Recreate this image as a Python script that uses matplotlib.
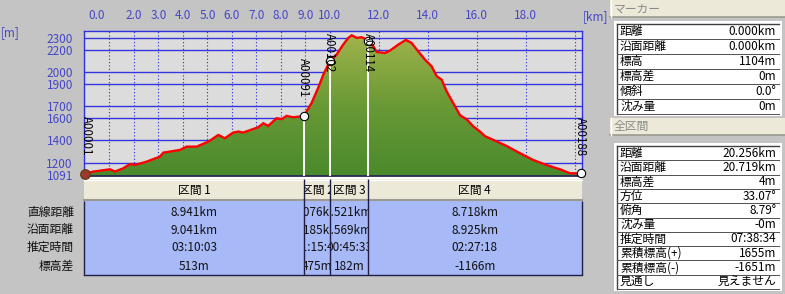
import numpy as np
import matplotlib
matplotlib.use('Agg')
import matplotlib.pyplot as plt
from matplotlib.patches import Rectangle, Polygon
from matplotlib import transforms
from matplotlib.transforms import Bbox, TransformedBbox
from matplotlib.colors import LinearSegmentedColormap

plt.rcParams['font.family'] = ['Noto Sans CJK JP', 'DejaVu Sans']

# ---------------- data ----------------
dist_km = [0.0, 0.34, 1.02, 1.22, 1.56, 1.84, 2.04, 2.52, 3.06, 3.20, 3.88, 4.15, 4.56,
           5.03, 5.10, 5.44, 5.71, 6.05, 6.26, 6.46, 7.07, 7.28, 7.48, 7.82, 8.03, 8.23,
           8.50, 8.78, 8.941, 9.25, 9.52, 9.73, 9.93, 10.017, 10.27, 10.54, 10.75, 10.89,
           11.09, 11.29, 11.50, 11.538, 11.77, 11.91, 12.24, 12.45, 12.79, 13.10, 13.33,
           13.60, 13.88, 14.15, 14.36, 14.56, 14.76, 15.03, 15.31, 15.58, 15.85, 16.12,
           16.33, 16.67, 17.21, 17.76, 18.30, 18.84, 19.39, 19.80, 20.256]
elev_m = [1104, 1124, 1144, 1124, 1153, 1191, 1182, 1212, 1256, 1291, 1315, 1344, 1344,
          1388, 1397, 1447, 1418, 1468, 1477, 1468, 1515, 1550, 1527, 1594, 1586, 1615,
          1603, 1610, 1617, 1729, 1862, 1979, 2067, 2100, 2155, 2244, 2303, 2326,
          2303, 2309, 2288, 2280, 2229, 2179, 2170, 2191, 2244, 2285, 2259,
          2185, 2111, 2053, 1965, 1935, 1833, 1729, 1621, 1585, 1523, 1478,
          1436, 1403, 1350, 1285, 1226, 1182, 1144, 1109, 1108]

marker_names = ['A00001', 'A00091', 'A00102', 'A00114', 'A00188']
marker_km = [0.0, 8.941, 10.017, 11.538, 20.256]
marker_elev = [1104, 1617, 2100, 2280, 1108]

x_tick_labels = ['0.0', '2.0', '3.0', '4.0', '5.0', '6.0', '7.0', '8.0', '9.0',
                 '10.0', '12.0', '14.0', '16.0', '18.0']
x_tick_pos = [0.49, 2, 3, 4, 5, 6, 7, 8, 9, 10, 12, 14, 16, 18]
x_grid = [1, 2, 3, 4, 5, 6, 7, 8, 9, 10, 12, 14, 16, 18, 20]
y_ticks = [2300, 2200, 2000, 1900, 1700, 1600, 1400, 1200, 1091]
y_grid = [2300, 2200, 2000, 1900, 1700, 1600, 1400, 1200]

section_names = ['区間 1', '区間 2', '区間 3', '区間 4']
row_labels = ['直線距離', '沿面距離', '推定時間', '標高差']
straight_dist = ['8.941km', '1.076km', '1.521km', '8.718km']
surface_dist = ['9.041km', '1.185km', '1.569km', '8.925km']
est_time = ['03:10:03', '01:15:40', '00:45:33', '02:27:18']
elev_diff = ['513m', '475m', '182m', '-1166m']

marker_panel_labels = ['距離', '沿面距離', '標高', '標高差', '傾斜', '沈み量']
marker_panel_values = ['0.000km', '0.000km', '1104m', '0m', '0.0°', '0m']
total_labels = ['距離', '沿面距離', '標高差', '方位', '俯角', '沈み量', '推定時間',
                '累積標高(+)', '累積標高(-)', '見通し']
total_values = ['20.256km', '20.719km', '4m', '33.07°', '8.79°', '-0m', '07:38:34',
                '1655m', '-1651m', '見えません']

# label placement (layout)
label_km = [0.04, 8.90, 10.0, 11.57, 20.22]
label_elev = [1438, 1949, 2174, 2170, 1432]

# ---------------- figure ----------------
W, H = 785, 294
fig = plt.figure(figsize=(W / 100, H / 100), dpi=100)
fig.patch.set_facecolor('#c4c4c4')

bg = fig.add_axes([0, 0, 1, 1])
bg.set_xlim(0, W)
bg.set_ylim(H, 0)
bg.axis('off')
bg.set_zorder(0)

PL, PR, PT, PB = 84, 582, 31, 176
ax = fig.add_axes([PL / W, (H - PB) / H, (PR - PL) / W, (PB - PT) / H])
ax.set_zorder(2)
ax.set_facecolor('#dcdcdc')
XMIN, XMAX = -0.04, 20.29
YMIN, YMAX = 1085, 2364
ax.set_xlim(XMIN, XMAX)
ax.set_ylim(YMIN, YMAX)

BLUE_TXT = '#4646c8'
for g in x_grid:
    ax.axvline(g, color='#2a2ad8', lw=0.8, ls=(0, (1, 2)), zorder=1)
for g in y_grid:
    ax.axhline(g, color='#3434e0', lw=1.0, zorder=1)

# fill with vertical gradient clipped to profile
verts = [(dist_km[0], YMIN)] + list(zip(dist_km, elev_m)) + [(dist_km[-1], YMIN)]
poly = Polygon(verts, closed=True, facecolor='none', edgecolor='none', transform=ax.transData)
ax.add_patch(poly)
cmap = LinearSegmentedColormap.from_list('g', ['#4a8a2c', '#6a9a36', '#a4b44c'])
grad = np.linspace(0, 1, 256).reshape(-1, 1)
im = ax.imshow(grad, extent=[XMIN, XMAX, YMIN, YMAX], origin='lower', aspect='auto',
               cmap=cmap, zorder=2)
im.set_clip_path(poly)

# vertical white marker lines
ax.vlines(marker_km[1:4], YMIN, marker_elev[1:4], colors='white', lw=1.4, zorder=3)

ax.plot(dist_km, elev_m, color='#ff0000', lw=1.7, zorder=5, solid_joinstyle='miter')

ax.plot(marker_km[1:], marker_elev[1:], 'o', ms=6, mfc='white', mec='black', mew=0.8,
        zorder=7, clip_on=False)
ax.plot(marker_km[0], marker_elev[0], 'o', ms=7, mfc='#9a3a28', mec='#5a3a20', mew=0.8,
        zorder=7, clip_on=False)

for nm, k, e in zip(marker_names, label_km, label_elev):
    ax.text(k, e, nm, rotation=270, ha='center', va='center', fontsize=8.3,
            color='black', zorder=8, clip_on=False)

# ticks
ax.xaxis.tick_top()
ax.set_xticks(x_tick_pos)
ax.set_xticklabels(x_tick_labels)
ax.set_yticks(y_ticks)
ax.set_yticklabels([str(v) for v in y_ticks])
ax.tick_params(axis='x', length=0, pad=6.5, labelsize=8.5, labelcolor=BLUE_TXT)
ax.tick_params(axis='y', length=0, pad=8, labelsize=8.5, labelcolor=BLUE_TXT)
for s in ['left', 'top', 'right']:
    ax.spines[s].set_color('#3030e0')
    ax.spines[s].set_linewidth(1.0)
ax.spines['bottom'].set_color('#20205a')
ax.spines['bottom'].set_linewidth(1.2)

bg.text(10, 33, '[m]', ha='center', va='center', fontsize=8.5, color=BLUE_TXT)
bg.text(595, 17, '[km]', ha='center', va='center', fontsize=8.5, color=BLUE_TXT)

# ---------------- section table ----------------
blend = transforms.blended_transform_factory(ax.transData, bg.transData)
bounds = [XMIN] + marker_km[1:4] + [XMAX]
HT, HB, TB = 179, 201, 275
row_y = [212.5, 230, 247.5, 266]
cols = [straight_dist, surface_dist, est_time, elev_diff]

bg.add_patch(Rectangle((XMIN, TB - 1), XMAX - XMIN, 0, transform=blend))
for i in range(4):
    k0, k1 = bounds[i], bounds[i + 1]
    bg.add_patch(Rectangle((k0, HT), k1 - k0, HB - HT, transform=blend,
                           facecolor='#ece9d8', edgecolor='none', zorder=1))
    bg.plot([k0, k1], [HT + 0.5, HT + 0.5], color='white', lw=1, transform=blend, zorder=2)
    bg.plot([k0, k1], [HB - 1.5, HB - 1.5], color='#9a9a90', lw=1.5, transform=blend, zorder=2)
    bg.add_patch(Rectangle((k0, HB), k1 - k0, TB - HB, transform=blend,
                           facecolor='#a7b9f7', edgecolor='none', zorder=1))
    clipbox = TransformedBbox(Bbox([[k0, HT], [k1, TB]]), blend)
    t = bg.text((k0 + k1) / 2, (HT + HB) / 2, section_names[i], ha='center', va='center',
                fontsize=8.5, color='black', transform=blend, zorder=3, clip_on=True)
    t.set_clip_box(clipbox)
    for r in range(4):
        t = bg.text((k0 + k1) / 2, row_y[r], cols[r][i], ha='center', va='center',
                    fontsize=8.5, color='#101010', transform=blend, zorder=3, clip_on=True)
        t.set_clip_box(clipbox)

bg.vlines(marker_km[1:4], HT, TB, colors='#1e1e46', lw=1.0, transform=blend, zorder=4)
bg.vlines([XMIN, XMAX], HB, TB, colors='#1e1e46', lw=1.0, transform=blend, zorder=4)
bg.plot([XMIN, XMAX], [TB, TB], color='#1e1e46', lw=1.0, transform=blend, zorder=4)
bg.plot([XMIN, XMAX], [HT - 1.5, HT - 1.5], color='#ffffff', lw=1.5, transform=blend, zorder=4)

for lab, y in zip(row_labels, row_y):
    bg.text(74, y, lab, ha='right', va='center', fontsize=8.5, color='#101010')

# ---------------- right panel ----------------
def header(y0, h, text):
    bg.add_patch(Rectangle((610, y0), 175, h, facecolor='#ece9d8', edgecolor='none', zorder=1))
    bg.plot([610, 785], [y0 + h - 0.5, y0 + h - 0.5], color='#9a9a90', lw=1.2, zorder=2)
    bg.plot([610.5, 610.5], [y0, y0 + h], color='#ffffff', lw=1.0, zorder=2)
    bg.text(614, y0 + h / 2, text, ha='left', va='center', fontsize=8.5, color='#8a8a8a', zorder=3)

def panel_table(top, rh, labels, values):
    n = len(labels)
    bg.add_patch(Rectangle((614, top - 3), 168, n * rh + 5, facecolor='white',
                           edgecolor='none', zorder=1))
    bg.plot([617, 617], [top, top + n * rh], color='#404040', lw=1.0, zorder=2)
    bg.plot([617, 779], [top, top], color='#404040', lw=1.0, zorder=2)
    for i in range(n):
        y = top + (i + 1) * rh
        bg.plot([617, 779], [y, y], color='#505050', lw=0.7, zorder=2)
        bg.text(620, top + (i + 0.5) * rh, labels[i], ha='left', va='center',
                fontsize=8.5, color='black', zorder=3)
        bg.text(776, top + (i + 0.5) * rh, values[i], ha='right', va='center',
                fontsize=8.5, color='black', zorder=3)

header(0, 17, 'マーカー')
panel_table(24, 15, marker_panel_labels, marker_panel_values)
header(118, 17, '全区間')
panel_table(146, 14.3, total_labels, total_values)

fig.savefig('out.png', dpi=100, facecolor=fig.get_facecolor())
